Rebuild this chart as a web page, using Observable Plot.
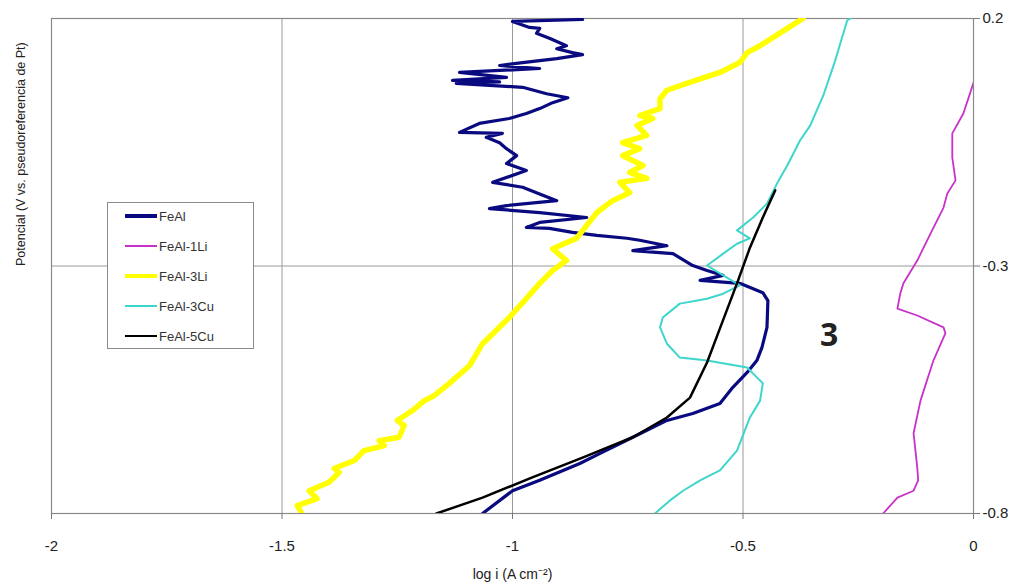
<!DOCTYPE html>
<html>
<head>
<meta charset="utf-8">
<script src="https://cdn.jsdelivr.net/npm/d3@7"></script>
<script src="https://cdn.jsdelivr.net/npm/@observablehq/plot@0.6"></script>
<style>
  html, body { margin: 0; padding: 0; background: #fff; }
  #wrap { position: relative; width: 1031px; height: 587px; font-family: "Liberation Sans", Arial, sans-serif; }
  #legend { position: absolute; left: 107px; top: 202px; width: 147px; height: 147px; border: 1px solid #8a8a8a; background: #fff; box-sizing: border-box; }
  #legend .row { position: absolute; left: 17px; height: 16px; display: flex; align-items: center; font-size: 13px; color: #333; }
  #legend .sw { width: 32px; margin-right: 2px; }
  #panel { position: absolute; left: 820px; top: 312px; font-family: "Open Sans", sans-serif; font-weight: bold; font-size: 32px; color: #222; }
</style>
</head>
<body>
<div id="wrap"></div>
<script>
// ---- Data (log i [A cm^-2], Potencial [V]) ----
const seriesNames = ["FeAl", "FeAl-1Li", "FeAl-3Li", "FeAl-3Cu", "FeAl-5Cu"];
const seriesColors = ["#0a0a80", "#c832c8", "#ffff00", "#3ed6cc", "#000000"];
const seriesWidths = [3.2, 1.8, 5.5, 2, 2.5];

const xTicks = [-2, -1.5, -1, -0.5, 0];
const yTicks = [0.2, -0.3, -0.8];
const xLabel = "log i (A cm\u207B\u00B2)";
const yLabel = "Potencial (V vs. pseudoreferencia de Pt)";
const panelLabel = "3";

const feAl = [
  [-1.065,-0.800],[-1.000,-0.754],[-0.941,-0.733],[-0.854,-0.699],[-0.811,-0.679],[-0.739,-0.646],
  [-0.665,-0.612],[-0.609,-0.598],[-0.550,-0.578],[-0.522,-0.545],[-0.491,-0.515],[-0.470,-0.491],
  [-0.459,-0.465],[-0.448,-0.424],[-0.446,-0.370],[-0.457,-0.354],[-0.507,-0.335],[-0.593,-0.329],
  [-0.543,-0.319],[-0.578,-0.309],[-0.609,-0.299],[-0.652,-0.275],[-0.739,-0.269],[-0.665,-0.259],
  [-0.724,-0.248],[-0.752,-0.244],[-0.817,-0.238],[-0.870,-0.232],[-0.920,-0.224],[-0.970,-0.222],
  [-0.941,-0.212],[-0.839,-0.202],[-0.941,-0.192],[-1.050,-0.184],[-1.013,-0.178],[-0.904,-0.168],
  [-0.948,-0.152],[-0.978,-0.141],[-1.043,-0.131],[-0.970,-0.107],[-1.013,-0.093],[-0.991,-0.077],
  [-1.013,-0.063],[-1.028,-0.051],[-1.057,-0.040],[-1.022,-0.032],[-1.115,-0.030],[-1.072,-0.012],
  [-1.007,-0.002],[-0.970,0.008],[-0.941,0.018],[-0.913,0.030],[-0.880,0.040],[-0.926,0.048],
  [-0.978,0.061],[-1.122,0.069],[-1.028,0.072],[-1.130,0.075],[-1.013,0.081],[-1.115,0.091],
  [-0.941,0.099],[-1.028,0.105],[-0.978,0.111],[-0.904,0.119],[-0.848,0.127],[-0.870,0.131],
  [-0.904,0.139],[-0.883,0.145],[-0.920,0.160],[-0.948,0.170],[-0.941,0.180],[-0.963,0.182],
  [-1.000,0.194],[-0.848,0.198]
];

const feAl1Li = [
  [-0.196,-0.800],[-0.165,-0.768],[-0.130,-0.754],[-0.120,-0.733],[-0.122,-0.707],[-0.130,-0.638],
  [-0.115,-0.572],[-0.087,-0.491],[-0.061,-0.436],[-0.065,-0.424],[-0.122,-0.400],[-0.165,-0.386],
  [-0.159,-0.356],[-0.152,-0.335],[-0.122,-0.289],[-0.093,-0.234],[-0.065,-0.182],[-0.057,-0.154],
  [-0.039,-0.127],[-0.046,-0.081],[-0.046,-0.032],[-0.022,0.008],[0.000,0.070]
];

const feAl3Li = [
  [-1.457,-0.800],[-1.467,-0.784],[-1.424,-0.770],[-1.441,-0.754],[-1.398,-0.737],[-1.376,-0.717],
  [-1.387,-0.709],[-1.343,-0.693],[-1.322,-0.673],[-1.278,-0.663],[-1.289,-0.653],[-1.246,-0.646],
  [-1.235,-0.622],[-1.250,-0.612],[-1.217,-0.592],[-1.191,-0.572],[-1.170,-0.562],[-1.137,-0.537],
  [-1.093,-0.501],[-1.065,-0.457],[-1.035,-0.430],[-1.007,-0.404],[-0.974,-0.370],[-0.941,-0.335],
  [-0.913,-0.309],[-0.883,-0.289],[-0.913,-0.265],[-0.861,-0.244],[-0.839,-0.218],[-0.817,-0.192],
  [-0.783,-0.168],[-0.746,-0.152],[-0.767,-0.131],[-0.709,-0.123],[-0.746,-0.111],[-0.717,-0.097],
  [-0.761,-0.077],[-0.724,-0.063],[-0.761,-0.051],[-0.709,-0.036],[-0.730,-0.016],[-0.696,-0.002],
  [-0.724,0.004],[-0.680,0.018],[-0.680,0.038],[-0.665,0.055],[-0.622,0.069],[-0.550,0.091],
  [-0.507,0.111],[-0.491,0.131],[-0.463,0.145],[-0.404,0.180],[-0.370,0.200]
];

const feAl3Cu = [
  [-0.691,-0.800],[-0.659,-0.774],[-0.630,-0.754],[-0.593,-0.733],[-0.550,-0.713],[-0.513,-0.673],
  [-0.496,-0.632],[-0.485,-0.606],[-0.463,-0.572],[-0.457,-0.537],[-0.470,-0.525],[-0.491,-0.505],
  [-0.578,-0.491],[-0.637,-0.485],[-0.665,-0.457],[-0.680,-0.424],[-0.674,-0.404],[-0.637,-0.376],
  [-0.578,-0.366],[-0.543,-0.356],[-0.507,-0.339],[-0.550,-0.315],[-0.578,-0.299],[-0.543,-0.275],
  [-0.513,-0.255],[-0.485,-0.244],[-0.513,-0.228],[-0.478,-0.202],[-0.448,-0.174],[-0.426,-0.133],
  [-0.404,-0.097],[-0.376,-0.046],[-0.354,-0.016],[-0.326,0.044],[-0.300,0.115],[-0.274,0.196],
  [-0.267,0.200]
];

const feAl5Cu = [
  [-1.165,-0.800],[-1.065,-0.768],[-0.957,-0.727],[-0.848,-0.687],[-0.739,-0.646],[-0.665,-0.606],
  [-0.615,-0.566],[-0.578,-0.495],[-0.550,-0.426],[-0.513,-0.335],[-0.485,-0.263],[-0.457,-0.202],
  [-0.430,-0.147]
];

const allSeries = [feAl, feAl1Li, feAl3Li, feAl3Cu, feAl5Cu];

// ---- Build table ----
const rows = [];
allSeries.forEach((s, i) => s.forEach(([x, y]) => rows.push({x, y, name: seriesNames[i]})));

const fmt = d => String(d);

const lineMarks = seriesNames.map((n, i) =>
  Plot.line(rows.filter(r => r.name === n), {
    x: "x", y: "y", stroke: seriesColors[i], strokeWidth: seriesWidths[i],
    strokeLinejoin: "round", strokeLinecap: "round", clip: true
  })
);

const chart = Plot.plot({
  width: 1031,
  height: 587,
  marginLeft: 51,
  marginRight: 58,
  marginTop: 18,
  marginBottom: 74,
  style: { fontFamily: "'Liberation Sans', Arial, sans-serif", fontSize: "15px", color: "#222", background: "#fff" },
  x: { domain: [-2, 0] },
  y: { domain: [-0.8, 0.2] },
  marks: [
    Plot.gridX(xTicks.slice(1, -1), { stroke: "#9a9a9a", strokeOpacity: 1, strokeWidth: 1 }),
    Plot.gridY([-0.3], { stroke: "#9a9a9a", strokeOpacity: 1, strokeWidth: 1 }),
    Plot.frame({ stroke: "#8a8a8a", strokeWidth: 1.2 }),
    Plot.axisX({ ticks: xTicks, tickFormat: fmt, tickSize: 6, tickPadding: 21, stroke: "#777", label: null, fontSize: 15 }),
    Plot.axisY({ anchor: "right", ticks: yTicks, tickFormat: fmt, tickSize: 6, tickPadding: 3, stroke: "#777", label: null, fontSize: 15 }),
    ...lineMarks,
    Plot.text([xLabel], { text: d => d, frameAnchor: "bottom", dy: 65, fontSize: 14, fill: "#222" }),
    Plot.text([yLabel], { text: d => d, frameAnchor: "left", dx: -31, rotate: -90, fontSize: 12.5, fill: "#222" })
  ]
});

const wrap = document.getElementById("wrap");
wrap.appendChild(chart);

// ---- Legend ----
const legend = document.createElement("div");
legend.id = "legend";
seriesNames.forEach((n, i) => {
  const row = document.createElement("div");
  row.className = "row";
  row.style.top = (5 + i * 30) + "px";
  const sw = document.createElement("div");
  sw.className = "sw";
  sw.style.height = Math.min(seriesWidths[i], 3.5) + "px";
  sw.style.background = seriesColors[i];
  const t = document.createElement("span");
  t.textContent = n;
  row.appendChild(sw);
  row.appendChild(t);
  legend.appendChild(row);
});
wrap.appendChild(legend);

const panel = document.createElement("div");
panel.id = "panel";
panel.textContent = panelLabel;
wrap.appendChild(panel);
</script>
</body>
</html>
